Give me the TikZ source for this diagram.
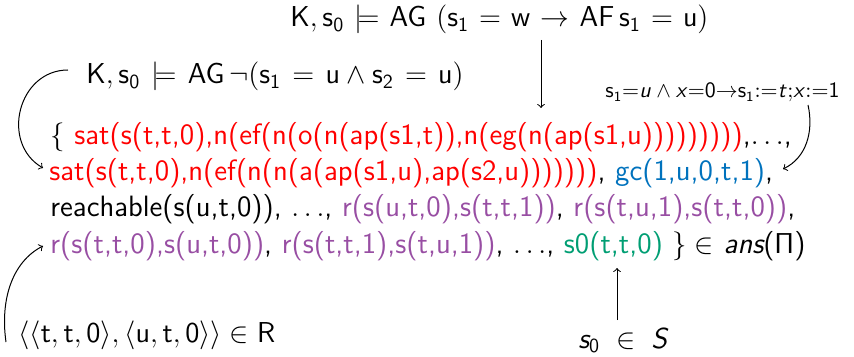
\documentclass[tikz,border=0pt]{standalone}
\usepackage{xcolor}
\renewcommand{\familydefault}{\sfdefault}
\DeclareMathAlphabet{\mathsi}{OT1}{cmss}{m}{sl}
\definecolor{cred}{RGB}{255,0,0}
\definecolor{cblue}{RGB}{0,114,189}
\definecolor{cpurple}{RGB}{152,78,163}
\definecolor{cgreen}{RGB}{0,158,115}
\tikzset{
  txt/.style={anchor=base west, inner sep=0pt, font=\fontsize{14.4}{17}\selectfont},
  body/.style={anchor=base west, inner sep=0pt, font=\fontsize{14.7}{17}\selectfont},
  small/.style={anchor=base west, inner sep=0pt, font=\fontsize{10.5}{12}\selectfont},
  link/.style={->, line width=0.5pt}
}
\begin{document}
\begin{tikzpicture}[x=0.5pt, y=-0.5pt]
  \useasboundingbox (0,0) rectangle (854,357);

  % formulas checked by the model checker
  \node[txt] (f1) at (290,27) {$\thickmuskip=6.3mu\mathsf{K, s_0 \models AG\;(s_1 = w \to AF\, s_1 = u)}$};
  \node[txt] (f2) at (86,84) {$\thickmuskip=7mu\mathsf{K, s_0 \models AG\,\neg(s_1 = u \land s_2 = u)}$};

  % guarded command
  \node[small] (gcmd) at (605,98) {$\mathsf{s_1}{=}\mathsi{u}\land\mathsi{x}{=}\mathsf{0}{\to}\mathsf{s_1}{:=}\mathsi{t}{;}\mathsi{x}{:=}\mathsf{1}$};

  % the answer set
  \node[body] (l1) at (50,145) {$\{$ \textcolor{cred}{sat(s(t,t,0),n(ef(n(o(n(ap(s1,t)),n(eg(n(ap(s1,u)))))))))},$\ldots$,};
  \node[body] (l2) at (49,181) {\textcolor{cred}{sat(s(t,t,0),n(ef(n(n(a(ap(s1,u),ap(s2,u)))))))}, \textcolor{cblue}{gc(1,u,0,t,1)},};
  \node[body] (l3) at (50,217) {reachable(s(u,t,0)), $\ldots$, \textcolor{cpurple}{r(s(u,t,0),s(t,t,1))}, \textcolor{cpurple}{r(s(t,u,1),s(t,t,0))},};
  \node[body] (l4) at (50,254) {\textcolor{cpurple}{r(s(t,t,0),s(u,t,0))}, \textcolor{cpurple}{r(s(t,t,1),s(t,u,1))}, $\ldots$, \textcolor{cgreen}{s0(t,t,0)} $\}\in$ {\itshape ans}($\mathsf{\Pi}$)};

  % transition relation and initial state
  \node[txt] (rel) at (18,342) {$\langle\langle \mathsf{t,t,0}\rangle, \langle \mathsf{u,t,0}\rangle\rangle \in \mathsf{R}$};
  \node[txt] (init) at (578,348) {$\mathsi{s}_{\mathsf{0}}\;\in\;\mathsi{S}$};

  % connector end points
  \coordinate (a1) at (541,40);
  \coordinate (b1) at (541,108);
  \coordinate (a2) at (68,70);
  \coordinate (b2) at (43,168);
  \coordinate (a3) at (808,105);
  \coordinate (b3) at (783,169);
  \coordinate (a4) at (6,342);
  \coordinate (b4) at (43,246);
  \coordinate (a5) at (617,320);
  \coordinate (b5) at (617,268);

  \draw[link] (a1) -- (b1);
  \draw[link] (a2) .. controls (18,70) and (0,143) .. (b2);
  \draw[link] (a3) .. controls (814,132) and (806,158) .. (b3);
  \draw[link] (a4) .. controls (0,300) and (12,262) .. (b4);
  \draw[link] (a5) -- (b5);
\end{tikzpicture}
\end{document}
